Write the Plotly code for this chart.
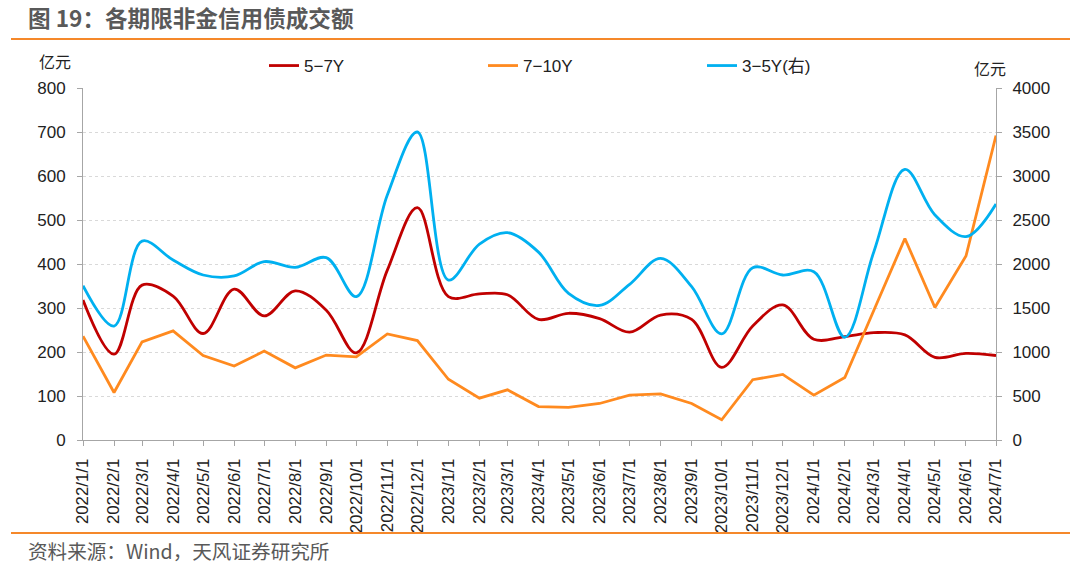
import plotly.graph_objects as go

# ---------------- data ----------------
dates = [
    "2022-01-01", "2022-02-01", "2022-03-01", "2022-04-01", "2022-05-01", "2022-06-01",
    "2022-07-01", "2022-08-01", "2022-09-01", "2022-10-01", "2022-11-01", "2022-12-01",
    "2023-01-01", "2023-02-01", "2023-03-01", "2023-04-01", "2023-05-01", "2023-06-01",
    "2023-07-01", "2023-08-01", "2023-09-01", "2023-10-01", "2023-11-01", "2023-12-01",
    "2024-01-01", "2024-02-01", "2024-03-01", "2024-04-01", "2024-05-01", "2024-06-01",
    "2024-07-01",
]
tick_labels = [
    "2022/1/1", "2022/2/1", "2022/3/1", "2022/4/1", "2022/5/1", "2022/6/1",
    "2022/7/1", "2022/8/1", "2022/9/1", "2022/10/1", "2022/11/1", "2022/12/1",
    "2023/1/1", "2023/2/1", "2023/3/1", "2023/4/1", "2023/5/1", "2023/6/1",
    "2023/7/1", "2023/8/1", "2023/9/1", "2023/10/1", "2023/11/1", "2023/12/1",
    "2024/1/1", "2024/2/1", "2024/3/1", "2024/4/1", "2024/5/1", "2024/6/1",
    "2024/7/1",
]
y_5_7 = [318, 195, 352, 327, 242, 343, 282, 339, 295, 198, 386, 528,
         326, 332, 330, 274, 288, 276, 245, 284, 274, 165, 259, 307,
         229, 235, 244, 239, 188, 197, 192]
y_7_10 = [236, 108, 223, 248, 192, 168, 202, 164, 193, 189, 241, 226,
          138, 95, 114, 76, 74, 83, 102, 105, 83, 46, 137, 149,
          102, 142, 295, 458, 301, 418, 692]
y_3_5 = [1754, 1295, 2260, 2045, 1875, 1864, 2027, 1962, 2072, 1629, 2784, 3500,
         1818, 2227, 2356, 2135, 1667, 1530, 1769, 2064, 1742, 1205, 1958, 1875,
         1913, 1167, 2140, 3076, 2557, 2311, 2682]
left_ticks = [0, 100, 200, 300, 400, 500, 600, 700, 800]
right_ticks = [0, 500, 1000, 1500, 2000, 2500, 3000, 3500, 4000]

names = ["5−7Y", "7−10Y", "3−5Y(右)"]
title_text = "图 19：各期限非金信用债成交额"
source_text = "资料来源：Wind，天风证券研究所"
unit_text = "亿元"

# ---------------- layout geometry (pixels) ----------------
W, H = 1080, 569
L, R, T, B = 83, 84, 88, 129
PW, PH = W - L - R, H - T - B


def px(x):
    return (x - L) / PW


def py(y):
    return (H - B - y) / PH


LATIN = "Arial, 'Liberation Sans', 'Noto Sans CJK SC', sans-serif"
CJK = "'Microsoft YaHei', 'Noto Sans CJK SC', sans-serif"
AXIS_COLOR = "#A6A6A6"
GRID_COLOR = "#D9D9D9"
TEXT_COLOR = "#222222"
RULE_COLOR = "#F5882A"

fig = go.Figure()
fig.add_trace(go.Scatter(x=dates, y=y_5_7, name=names[0], mode="lines",
                         line=dict(color="#C00000", width=2.8, shape="spline"),
                         yaxis="y"))
fig.add_trace(go.Scatter(x=dates, y=y_7_10, name=names[1], mode="lines",
                         line=dict(color="#FF8A1F", width=2.8),
                         yaxis="y"))
fig.add_trace(go.Scatter(x=dates, y=y_3_5, name=names[2], mode="lines",
                         line=dict(color="#00B0F0", width=2.8, shape="spline"),
                         yaxis="y2"))

fig.update_layout(
    width=W, height=H,
    margin=dict(l=L, r=R, t=T, b=B, pad=0),
    paper_bgcolor="white", plot_bgcolor="white",
    font=dict(family=LATIN, size=16, color=TEXT_COLOR),
    showlegend=True,
    hovermode=False,
    legend=dict(
        orientation="h", x=px(264), y=py(66), xanchor="left", yanchor="middle",
        font=dict(family=LATIN, size=17, color=TEXT_COLOR),
        entrywidth=174, entrywidthmode="pixels",
        bgcolor="rgba(0,0,0,0)", traceorder="normal",
    ),
    xaxis=dict(
        type="date", range=[dates[0], dates[-1]],
        tickmode="array", tickvals=dates, ticktext=tick_labels,
        tickangle=-90, ticks="outside", ticklen=5, tickcolor=AXIS_COLOR,
        ticklabelstandoff=6,
        showline=True, linecolor=AXIS_COLOR, linewidth=1,
        showgrid=False, zeroline=False,
        tickfont=dict(family=LATIN, size=16.8, color=TEXT_COLOR),
    ),
    yaxis=dict(
        range=[0, 800], tickmode="array", tickvals=left_ticks,
        ticks="outside", ticklen=5, tickcolor=AXIS_COLOR,
        ticklabelstandoff=8,
        showline=True, linecolor=AXIS_COLOR, linewidth=1,
        showgrid=True, gridcolor=GRID_COLOR, griddash="dot", gridwidth=1,
        zeroline=False,
        tickfont=dict(family=LATIN, size=17, color=TEXT_COLOR),
    ),
    yaxis2=dict(
        range=[0, 4000], tickmode="array", tickvals=right_ticks,
        overlaying="y", side="right",
        ticks="outside", ticklen=5, tickcolor=AXIS_COLOR,
        ticklabelstandoff=7,
        showline=True, linecolor=AXIS_COLOR, linewidth=1,
        showgrid=False, zeroline=False,
        tickfont=dict(family=LATIN, size=17, color=TEXT_COLOR),
    ),
)

# title, units, source
fig.add_annotation(text=title_text, xref="paper", yref="paper",
                   x=px(26), y=py(18), xanchor="left", yanchor="middle",
                   showarrow=False,
                   font=dict(family=CJK, size=22.6, color="#595959", weight="bold"))
fig.add_annotation(text=unit_text, xref="paper", yref="paper",
                   x=px(55), y=py(63), xanchor="center", yanchor="middle",
                   showarrow=False, font=dict(family=LATIN, size=16, color=TEXT_COLOR))
fig.add_annotation(text=unit_text, xref="paper", yref="paper",
                   x=px(990), y=py(69), xanchor="center", yanchor="middle",
                   showarrow=False, font=dict(family=LATIN, size=16, color=TEXT_COLOR))
fig.add_annotation(text=source_text, xref="paper", yref="paper",
                   x=px(26), y=py(550), xanchor="left", yanchor="middle",
                   showarrow=False, font=dict(family=CJK, size=19.6, color="#595959"))

# orange rules
for yy in (39, 533):
    fig.add_shape(type="line", xref="paper", yref="paper",
                  x0=px(11), x1=px(1070), y0=py(yy), y1=py(yy),
                  line=dict(color=RULE_COLOR, width=2))

fig.write_html("out.html", config={"displayModeBar": False},
               post_script="document.body.style.margin='0px';")
